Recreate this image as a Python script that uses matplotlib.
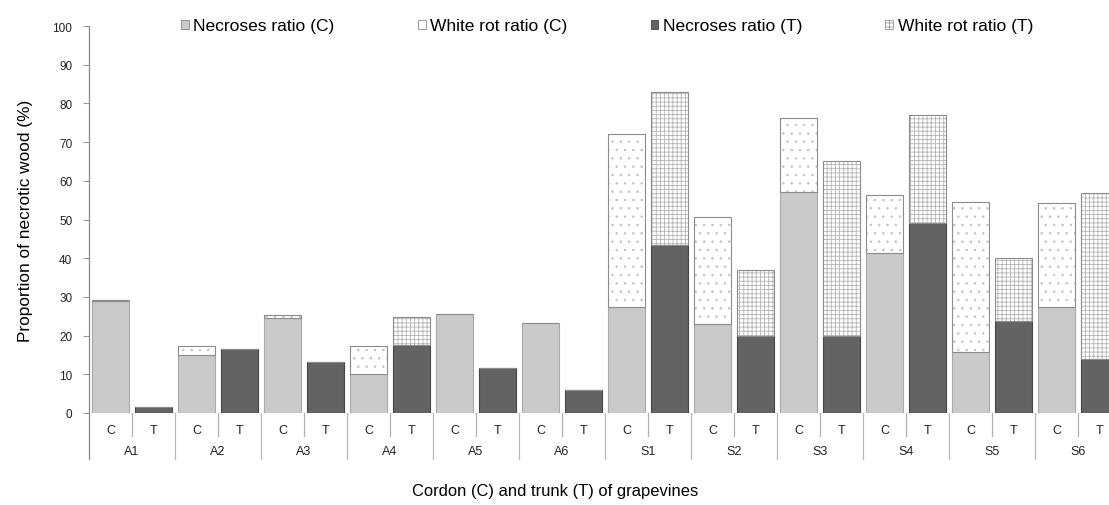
import matplotlib.pyplot as plt
from matplotlib.patches import Patch
import numpy as np

plt.rcParams['font.family'] = ['Liberation Sans', 'DejaVu Sans']
plt.rcParams['hatch.linewidth'] = 0.6

# sites: A = asymptomatic, S = symptomatic vines
groups = ['A1', 'A2', 'A3', 'A4', 'A5', 'A6', 'S1', 'S2', 'S3', 'S4', 'S5', 'S6']
parts = ['C', 'T']

# proportion of necrotic wood (%)
nec_c = [29.0, 15.0, 24.5, 10.0, 25.7, 23.3, 27.5, 23.0, 57.0, 41.3, 15.7, 27.3]
white_c = [0.2, 2.3, 0.7, 7.3, 0.0, 0.0, 44.7, 27.6, 19.1, 15.0, 38.7, 26.9]
nec_t = [1.5, 16.5, 13.2, 17.5, 11.7, 6.0, 43.3, 20.0, 20.0, 49.1, 23.9, 14.0]
white_t = [0.0, 0.0, 0.0, 7.2, 0.0, 0.0, 39.7, 17.0, 45.1, 27.8, 16.2, 42.8]

col_nec_c = '#cacaca'
col_nec_t = '#636363'

fig = plt.figure(figsize=(11.09, 5.06), dpi=100)
ax = fig.add_axes([89 / 1109, 1 - 414 / 506, 43 * 24 / 1109, 387 / 506])

n = len(groups)
xc = np.arange(n) * 2
xt = xc + 1
w = 0.86

# cordon bars
ax.bar(xc, nec_c, w, color=col_nec_c, edgecolor='#a8a8a8', linewidth=0.8)
ax.bar(xc, white_c, w, bottom=nec_c, color='white', edgecolor='#c4c4c4',
       hatch='..', linewidth=0)
ax.bar(xc, white_c, w, bottom=nec_c, fill=False, edgecolor='#8c8c8c', linewidth=0.8)

# trunk bars
ax.bar(xt, nec_t, w, color=col_nec_t, edgecolor='#444444', linewidth=0.8)
ax.bar(xt, white_t, w, bottom=nec_t, color='white', edgecolor='#b4b4b4',
       hatch='++++', linewidth=0)
ax.bar(xt, white_t, w, bottom=nec_t, fill=False, edgecolor='#8c8c8c', linewidth=0.8)

ax.set_xlim(-0.5, 2 * n - 0.5)
ax.set_ylim(0, 100)
ax.set_yticks(np.arange(0, 101, 10))
ax.tick_params(axis='y', labelsize=8.5, length=4, pad=8, color='#999999',
               labelcolor='#222222')
ax.set_xticks([])
for s in ['top', 'right', 'bottom', 'left']:
    ax.spines[s].set_visible(False)

# two-level category axis
tr = ax.get_xaxis_transform()
for i, g in enumerate(groups):
    for j, p in enumerate(parts):
        ax.text(2 * i + j, -0.044, p, transform=tr, ha='center', va='center',
                fontsize=9, color='#222222')
    ax.text(2 * i + 0.5, -0.098, g, transform=tr, ha='center', va='center',
            fontsize=9, color='#222222')
    ax.plot([2 * i + 0.5, 2 * i + 0.5], [0, -0.059], transform=tr, color='#b0b0b0',
            linewidth=0.9, clip_on=False)
for k in range(n + 1):
    ax.plot([2 * k - 0.5, 2 * k - 0.5], [0 if k else 1, -0.119], transform=tr,
            color='#888888' if k == 0 else '#b8b8b8', linewidth=0.9, clip_on=False)

ax.set_ylabel('Proportion of necrotic wood (%)', fontsize=12.4, labelpad=14)
fig.text(555 / 1109, 1 - 492 / 506, 'Cordon (C) and trunk (T) of grapevines',
         ha='center', va='center', fontsize=11.9)

handles = [
    Patch(facecolor=col_nec_c, edgecolor='#888888', linewidth=0.6),
    Patch(facecolor='white', edgecolor='#888888', linewidth=0.6),
    Patch(facecolor=col_nec_t, edgecolor='#444444', linewidth=0.6),
    Patch(facecolor='white', edgecolor='#999999', hatch='++++', linewidth=0.6),
]
labels = ['Necroses ratio (C)', 'White rot ratio (C)', 'Necroses ratio (T)',
          'White rot ratio (T)']
fig.legend(handles, labels, loc='center', bbox_to_anchor=(607 / 1109, 1 - 27 / 506),
           ncol=4, frameon=False, fontsize=12.5, handlelength=0.45, handleheight=0.45,
           handletextpad=0.25, columnspacing=4.8)

fig.savefig('out.png', dpi=100)
